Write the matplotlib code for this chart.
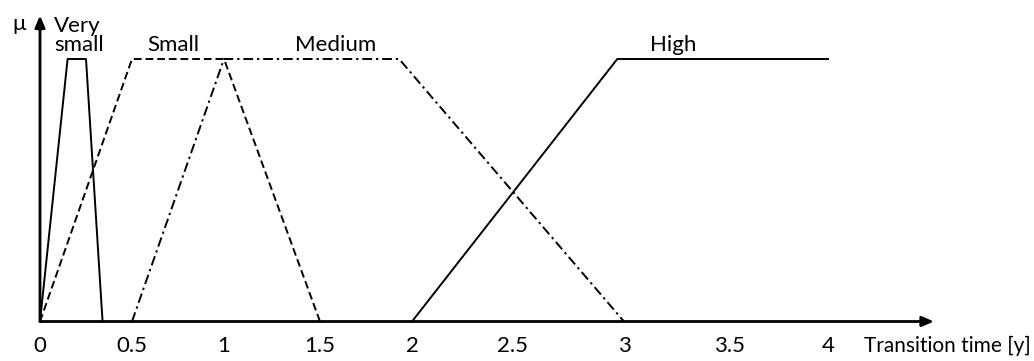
import numpy as np
import matplotlib
matplotlib.use("Agg")
import matplotlib.pyplot as plt

plt.rcParams['font.family'] = ['Lato', 'DejaVu Sans']

# membership functions (transition time in years, membership 0..1)
very_small_x = [0, 0.15, 0.25, 0.34]
very_small_y = [0, 1, 1, 0]
small_x = [0, 0.5, 1, 1.5]
small_y = [0, 1, 1, 0]
medium_x = [0.5, 1, 1.93, 3]
medium_y = [0, 1, 1, 0]
high_x = [2, 2.97, 4]
high_y = [0, 1, 1]

tick_vals = [0, 0.5, 1, 1.5, 2, 2.5, 3, 3.5, 4]
tick_labels = ['0', '0.5', '1', '1.5', '2', '2.5', '3', '3.5', '4']

# the hand-drawn axis is not evenly spaced, so stretch it piecewise
knot_vals = np.array([-1, 0, 0.5, 1, 1.5, 2, 2.5, 3, 3.5, 4, 6])
knot_pos = np.array([-144, 40, 132, 224, 320, 412, 512, 624, 730, 828, 1228])


def fwd(x):
    return np.interp(x, knot_vals, knot_pos)


def inv(p):
    return np.interp(p, knot_pos, knot_vals)


fig = plt.figure(figsize=(10.34, 3.61), dpi=100)
ax = fig.add_axes([0, 0, 1, 1])
ax.set_xscale('function', functions=(fwd, inv))
ax.set_xlim(inv(0), inv(1034))
ax.set_ylim(-39.5 / 262.5, 321.5 / 262.5)
ax.axis('off')

lw = 1.4
ax.plot(very_small_x, very_small_y, color='black', lw=lw)
ax.plot(small_x, small_y, color='black', lw=lw, linestyle=(0, (4, 2)))
ax.plot(medium_x, medium_y, color='black', lw=lw, linestyle=(0, (5, 2, 1.2, 2)))
ax.plot(high_x, high_y, color='black', lw=lw)

# axes with arrow heads
arrow = dict(arrowstyle='-|>,head_length=0.7,head_width=0.3', color='black',
             lw=2, shrinkA=0, shrinkB=0)
ax.annotate('', xy=(inv(934), 0), xytext=(0, 0), arrowprops=arrow)
ax.annotate('', xy=(0, 306 / 262.5), xytext=(0, 0), arrowprops=arrow)

fs = 16
for v, lab in zip(tick_vals, tick_labels):
    ax.text(v, -0.092, lab, ha='center', va='center', fontsize=fs)
ax.text(inv(1031), -0.092, 'Transition time [y]', ha='right', va='center',
        fontsize=15)
ax.text(inv(19), 297 / 262.5, 'μ', ha='center', va='center', fontsize=fs)

ax.text(inv(54), 1.03, 'Very\nsmall', ha='left', va='baseline', fontsize=fs,
        linespacing=0.95)
ax.text(inv(173), 1.03, 'Small', ha='center', va='baseline', fontsize=fs)
ax.text(inv(336), 1.03, 'Medium', ha='center', va='baseline', fontsize=fs)
ax.text(inv(673), 1.03, 'High', ha='center', va='baseline', fontsize=fs)

fig.savefig('out.png', dpi=100)
